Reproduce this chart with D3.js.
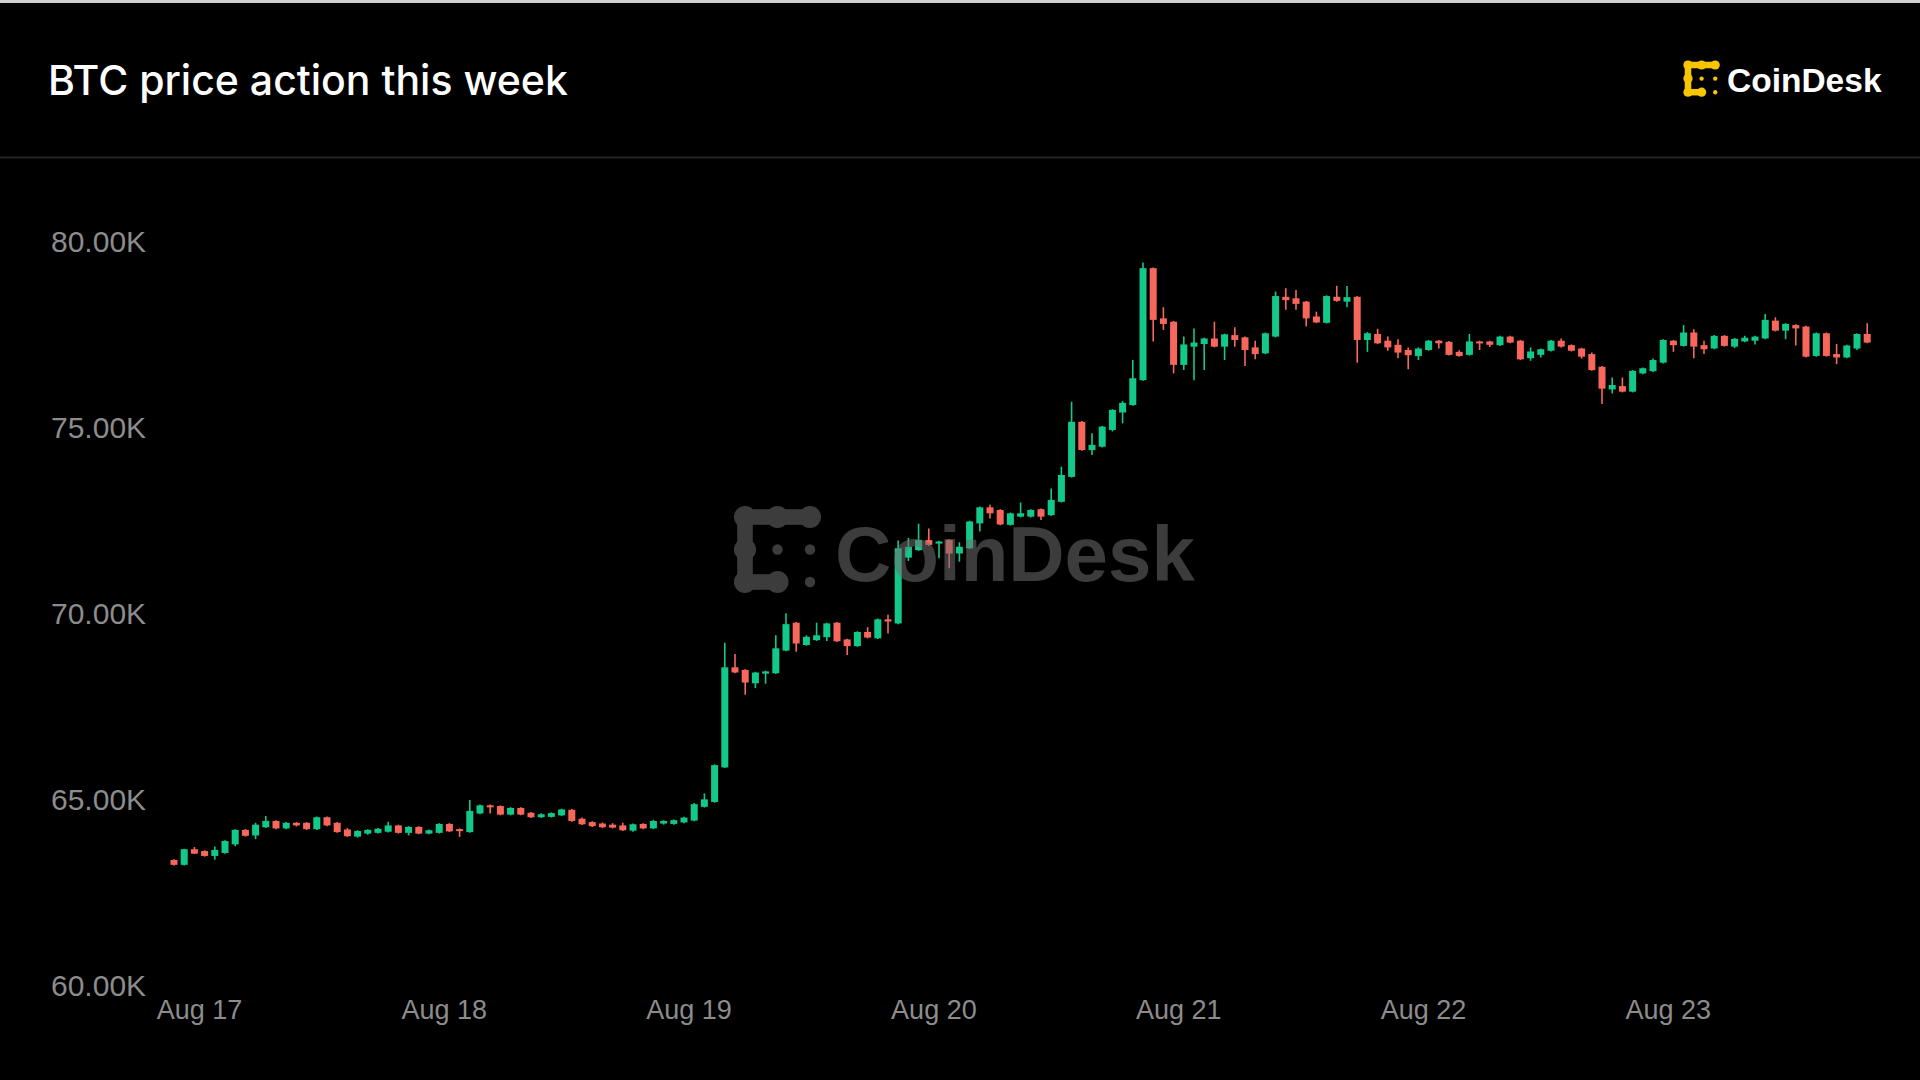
<!DOCTYPE html>
<html>
<head>
<meta charset="utf-8">
<script src="https://cdn.jsdelivr.net/npm/d3@7"></script>
<style>
  html, body { margin: 0; padding: 0; background: #000; }
  svg { display: block; }
</style>
</head>
<body>
<svg id="chart" width="1920" height="1080"></svg>
<script>
// hourly BTC candles, values in thousands of USD
const opens = [
  63.36,63.23,63.65,63.60,63.47,63.55,63.78,64.17,64.02,64.24,64.41,64.21,64.36,64.36,64.19,64.51,64.36,64.18,63.99,64.07,
  64.09,64.12,64.29,64.09,64.25,64.07,64.09,64.33,64.19,64.11,64.61,64.83,64.81,64.58,64.76,64.63,64.51,64.52,64.56,64.71,
  64.47,64.38,64.34,64.31,64.29,64.15,64.33,64.21,64.34,64.33,64.37,64.42,64.79,64.92,65.85,68.54,68.47,68.11,68.37,68.38,
  68.99,69.74,69.14,69.27,69.35,69.74,69.29,69.11,69.49,69.32,69.83,69.72,71.49,71.69,71.96,71.87,71.96,71.60,71.74,72.41,
  72.84,72.77,72.37,72.59,72.59,72.79,72.63,72.99,73.66,75.14,74.38,74.47,74.92,75.39,75.59,76.26,79.27,77.92,77.83,76.67,
  77.16,77.23,77.38,77.16,77.47,77.41,77.14,76.98,77.43,78.50,78.46,78.37,77.97,77.80,78.50,78.37,78.50,77.34,77.50,77.32,
  77.21,77.07,76.91,77.07,77.32,77.29,77.02,76.94,77.30,77.30,77.20,77.43,77.32,76.85,76.94,77.05,77.32,77.20,77.11,76.96,
  76.62,76.01,76.10,75.95,76.44,76.50,76.73,77.32,77.18,77.54,77.20,77.11,77.45,77.16,77.30,77.32,77.38,77.86,77.59,77.74,
  77.70,76.91,77.52,76.96,76.87,77.11,77.50
];
const closes = [
  63.23,63.65,63.53,63.47,63.63,63.87,64.17,64.01,64.31,64.41,64.21,64.36,64.29,64.19,64.51,64.29,64.11,64.00,64.14,64.17,
  64.20,64.29,64.09,64.25,64.07,64.16,64.33,64.13,64.15,64.68,64.83,64.78,64.58,64.76,64.58,64.51,64.59,64.62,64.72,64.41,
  64.32,64.27,64.24,64.23,64.16,64.32,64.21,64.41,64.41,64.43,64.50,64.86,64.99,65.91,68.54,68.40,68.13,68.40,68.43,69.05,
  69.70,69.18,69.36,69.40,69.72,69.24,69.11,69.49,69.34,69.83,69.77,71.74,71.78,71.96,71.83,71.92,71.60,71.78,72.46,72.84,
  72.68,72.38,72.68,72.68,72.77,72.59,73.04,73.71,75.14,74.38,74.52,75.01,75.46,75.65,76.31,79.27,77.88,77.77,76.67,77.22,
  77.27,77.38,77.16,77.49,77.34,77.07,76.96,77.52,78.52,78.41,78.31,77.92,77.81,78.52,78.39,78.49,77.34,77.52,77.25,77.14,
  77.00,76.93,77.11,77.32,77.25,76.94,76.91,77.30,77.25,77.21,77.43,77.27,76.82,77.03,77.09,77.32,77.16,77.05,76.89,76.53,
  76.03,76.13,75.95,76.51,76.58,76.80,77.34,77.20,77.54,77.16,77.09,77.45,77.18,77.37,77.40,77.43,77.88,77.59,77.77,77.65,
  76.89,77.52,76.91,76.87,77.19,77.50,77.27
];
const highs = [
  63.38,63.66,63.71,63.62,63.72,63.89,64.19,64.19,64.36,64.54,64.43,64.38,64.38,64.38,64.53,64.53,64.38,64.22,64.16,64.19,
  64.22,64.39,64.31,64.27,64.27,64.18,64.35,64.35,64.21,64.97,64.85,64.85,64.83,64.78,64.78,64.65,64.62,64.64,64.74,64.73,
  64.50,64.40,64.37,64.35,64.36,64.34,64.35,64.44,64.43,64.45,64.52,64.89,65.15,65.93,69.20,68.90,68.49,68.42,68.45,69.40,
  69.99,69.76,69.40,69.74,69.74,69.76,69.31,69.51,69.62,69.85,69.95,71.95,72.02,72.40,72.27,71.94,71.98,71.90,72.48,72.86,
  72.91,72.79,72.70,72.97,72.79,72.81,73.35,73.93,75.68,75.16,74.83,75.03,75.48,75.70,76.80,79.42,79.29,78.22,77.85,77.43,
  77.65,77.40,77.83,77.51,77.68,77.43,77.32,77.54,78.64,78.73,78.68,78.39,78.10,78.54,78.80,78.79,78.52,77.55,77.64,77.43,
  77.36,77.14,77.14,77.34,77.34,77.31,77.06,77.50,77.32,77.32,77.45,77.45,77.34,77.14,77.11,77.34,77.38,77.22,77.13,77.00,
  76.64,76.33,76.33,76.53,76.60,76.84,77.36,77.34,77.74,77.63,77.32,77.47,77.47,77.39,77.45,77.45,78.04,77.95,77.79,77.76,
  77.72,77.54,77.54,77.23,77.21,77.52,77.79
];
const lows = [
  63.21,63.21,63.52,63.45,63.37,63.53,63.73,63.99,63.92,64.22,64.19,64.19,64.26,64.17,64.17,64.27,64.09,63.98,63.96,64.04,
  64.07,64.10,64.07,64.02,64.05,64.05,64.07,64.11,63.98,64.09,64.59,64.61,64.56,64.56,64.56,64.49,64.49,64.50,64.54,64.39,
  64.30,64.25,64.22,64.21,64.14,64.12,64.19,64.19,64.31,64.31,64.35,64.40,64.77,64.90,65.83,68.38,67.80,67.98,68.10,68.36,
  68.97,68.96,69.12,69.25,69.25,69.22,68.87,69.09,69.32,69.30,69.45,69.70,71.40,71.67,71.81,71.47,71.20,71.38,71.72,72.19,
  72.54,72.36,72.35,72.57,72.57,72.50,72.61,72.97,73.64,74.36,74.25,74.45,74.88,75.10,75.57,76.24,77.30,77.61,76.44,76.53,
  76.26,76.53,77.14,76.80,77.16,76.64,76.82,76.96,77.41,78.15,78.15,77.70,77.79,77.78,78.37,78.22,76.73,77.02,77.23,77.05,
  76.85,76.55,76.80,77.05,77.11,76.92,76.89,76.92,77.07,77.15,77.18,77.25,76.80,76.78,76.87,77.03,77.14,77.03,76.84,76.51,
  75.62,75.90,75.93,75.93,76.42,76.48,76.71,77.02,77.16,76.85,76.96,77.09,77.16,77.12,77.28,77.22,77.36,77.57,77.36,77.19,
  76.87,76.89,76.89,76.69,76.85,77.07,77.25
];
const yTicks = [60, 65, 70, 75, 80];
const dayTicks = ["2024-08-17", "2024-08-18", "2024-08-19", "2024-08-20", "2024-08-21", "2024-08-22", "2024-08-23"];
const startTime = new Date(2024, 7, 16, 21, 30);

const W = 1920, H = 1080;
const green = "#13c98a", red = "#f7675b";
const hour = 3600 * 1000;
const candles = opens.map((o, i) => ({
  t: new Date(+startTime + i * hour), o, c: closes[i], h: highs[i], l: lows[i]
}));

const svg = d3.select("#chart");

svg.append("rect").attr("width", W).attr("height", H).attr("fill", "#000");
svg.append("rect").attr("width", W).attr("height", 3).attr("fill", "#cfcfcf");
svg.append("line")
  .attr("x1", 0).attr("x2", W).attr("y1", 157.5).attr("y2", 157.5)
  .style("stroke", "#242424").style("stroke-width", 2);

svg.append("text")
  .attr("x", 48).attr("y", 95)
  .attr("fill", "#fff")
  .style("font-family", "Inter, 'Liberation Sans', sans-serif")
  .style("font-weight", 500)
  .style("font-size", "41px")
  .text("BTC price action this week");

// scales
const x = d3.scaleTime()
  .domain([startTime, new Date(+startTime + (candles.length - 1) * hour)])
  .range([174, 174 + (candles.length - 1) * 10.2]);
const y = d3.scaleLinear().domain([60, 80]).range([985, 241]);

// y labels
svg.append("g").selectAll("text")
  .data(yTicks).enter().append("text")
  .attr("x", 51).attr("y", d => y(d))
  .attr("dy", "0.36em")
  .attr("fill", "#8c8c8c")
  .style("font-family", "'Liberation Sans', Arial, sans-serif")
  .style("font-size", "30px")
  .text(d => d3.format(".2f")(d) + "K");

// x labels
const fmtDay = d3.timeFormat("%b %-d");
svg.append("g").selectAll("text")
  .data(dayTicks.map(s => d3.timeParse("%Y-%m-%d")(s))).enter().append("text")
  .attr("x", d => x(d)).attr("y", 1019)
  .attr("text-anchor", "middle")
  .attr("fill", "#8c8c8c")
  .style("font-family", "'Liberation Sans', Arial, sans-serif")
  .style("font-size", "27px")
  .text(fmtDay);

// candles
const cg = svg.append("g");
cg.selectAll("line")
  .data(candles).enter().append("line")
  .attr("x1", d => x(d.t)).attr("x2", d => x(d.t))
  .attr("y1", d => y(d.h)).attr("y2", d => y(d.l))
  .style("stroke", d => d.c >= d.o ? green : red)
  .style("stroke-width", 1.6);
cg.selectAll("rect")
  .data(candles).enter().append("rect")
  .attr("x", d => x(d.t) - 3.5)
  .attr("width", 7)
  .attr("y", d => y(Math.max(d.o, d.c)))
  .attr("height", d => Math.max(2, Math.abs(y(d.o) - y(d.c))))
  .attr("fill", d => d.c >= d.o ? green : red);

// CoinDesk mark
function drawLogo(g, cx, cy, u, color) {
  const blobs = [[0, 0], [1, 0], [2, 0], [0, 1], [0, 2], [1, 2]];
  const dots = [[1, 1], [2, 1], [2, 2]];
  const r = 0.34 * u;
  g.append("rect").attr("x", cx - 0.24 * u).attr("y", cy - 0.24 * u)
    .attr("width", 2.24 * u).attr("height", 0.48 * u).attr("fill", color);
  g.append("rect").attr("x", cx - 0.24 * u).attr("y", cy - 0.24 * u)
    .attr("width", 0.48 * u).attr("height", 2.48 * u).attr("fill", color);
  g.append("rect").attr("x", cx - 0.24 * u).attr("y", cy + 1.76 * u)
    .attr("width", 1.24 * u).attr("height", 0.48 * u).attr("fill", color);
  blobs.forEach(([i, j]) => g.append("circle")
    .attr("cx", cx + i * u).attr("cy", cy + j * u).attr("r", r).attr("fill", color));
  dots.forEach(([i, j]) => g.append("circle")
    .attr("cx", cx + i * u).attr("cy", cy + j * u).attr("r", 0.16 * u).attr("fill", color));
}

const wm = svg.append("g").style("opacity", 0.55);
drawLogo(wm, 745, 517, 32.5, "#6e6e6e");
wm.append("text")
  .attr("x", 835).attr("y", 581)
  .attr("fill", "#6e6e6e")
  .style("font-family", "'Liberation Sans', Arial, sans-serif")
  .style("font-weight", 700)
  .style("font-size", "78px")
  .text("CoinDesk");

const logo = svg.append("g");
drawLogo(logo, 1688, 65, 13.6, "#f7c600");
logo.append("text")
  .attr("x", 1727).attr("y", 92)
  .attr("fill", "#fff")
  .style("font-family", "'Liberation Sans', Arial, sans-serif")
  .style("font-weight", 700)
  .style("font-size", "33.5px")
  .text("CoinDesk");
</script>
</body>
</html>
